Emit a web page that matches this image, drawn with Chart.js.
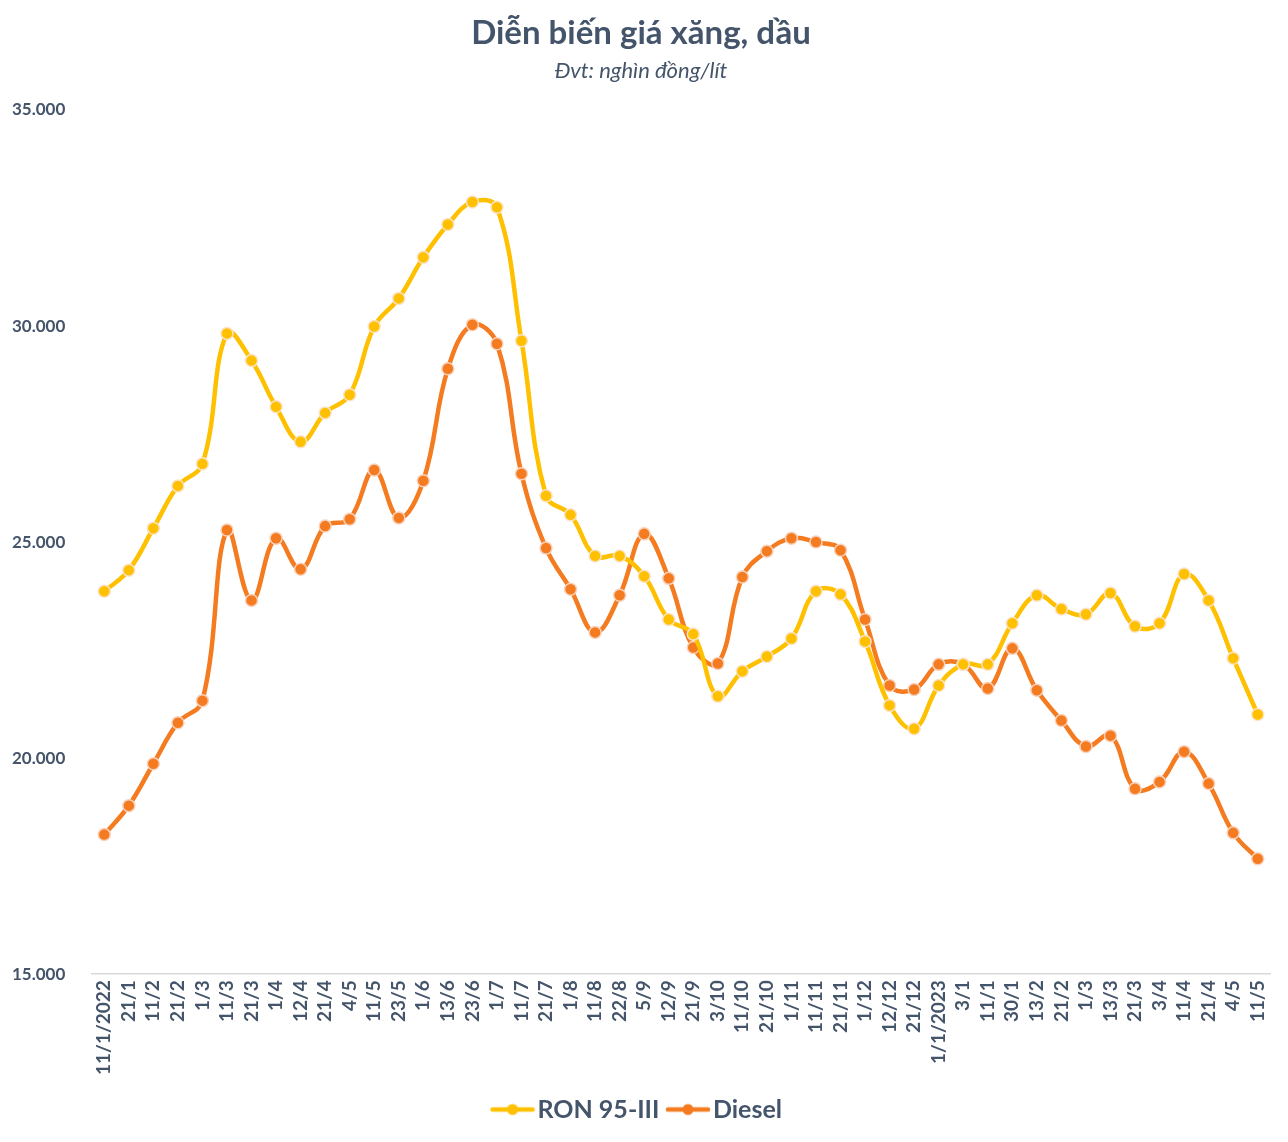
<!DOCTYPE html>
<html>
<head>
<meta charset="utf-8">
<script src="https://cdn.jsdelivr.net/npm/chart.js@4"></script>
<style>
  html, body { margin: 0; padding: 0; background: #fff; }
  #wrap { width: 1288px; height: 1142px; }
</style>
</head>
<body>
<div id="wrap"><canvas id="priceChart"></canvas></div>
<script>
// Dates of price adjustments (2022 - 2023)
const labels = ['11/1/2022', '21/1', '11/2', '21/2', '1/3', '11/3', '21/3', '1/4', '12/4', '21/4',
    '4/5', '11/5', '23/5', '1/6', '13/6', '23/6', '1/7', '11/7', '21/7', '1/8',
    '11/8', '22/8', '5/9', '12/9', '21/9', '3/10', '11/10', '21/10', '1/11', '11/11',
    '21/11', '1/12', '12/12', '21/12', '1/1/2023', '3/1', '11/1', '30/1', '13/2', '21/2',
    '1/3', '13/3', '21/3', '3/4', '11/4', '21/4', '4/5', '11/5'];

// dong / litre
const ron95 = [23860, 24350, 25320, 26300, 26810, 29830, 29200, 28130, 27320, 27990,
    28410, 29990, 30640, 31590, 32350, 32870, 32750, 29660, 26070, 25630,
    24680, 24680, 24210, 23210, 22870, 21430, 22010, 22350, 22770, 23860,
    23790, 22700, 21220, 20680, 21680, 22170, 22170, 23120, 23770, 23450,
    23330, 23820, 23050, 23120, 24260, 23650, 22310, 21010];

const diesel = [18230, 18900, 19870, 20820, 21330, 25280, 23650, 25090, 24370, 25370,
    25530, 26670, 25560, 26420, 29010, 30030, 29590, 26580, 24860, 23910,
    22910, 23770, 25190, 24160, 22560, 22190, 24190, 24790, 25090, 25000,
    24810, 23210, 21680, 21590, 22170, 22170, 21610, 22540, 21570, 20870,
    20270, 20520, 19290, 19450, 20150, 19410, 18270, 17670];

const yTicks = [15000, 20000, 25000, 30000, 35000];

const TEXT = '#44546A';
const FONT = "Lato, 'Open Sans', sans-serif";

// legend marker: short line with a dot in the middle
function legendMarker(color) {
    const c = document.createElement('canvas');
    c.width = 46; c.height = 14;
    const g = c.getContext('2d');
    g.strokeStyle = color;
    g.lineWidth = 4.5;
    g.lineCap = 'round';
    g.beginPath(); g.moveTo(3, 7); g.lineTo(43, 7); g.stroke();
    g.fillStyle = color;
    g.beginPath(); g.arc(23, 7, 5.5, 0, Math.PI * 2); g.fill();
    return c;
}

function fmt(v) {
    return v.toLocaleString('de-DE');
}

const ctx = document.getElementById('priceChart').getContext('2d');
new Chart(ctx, {
    type: 'line',
    data: {
        labels: labels,
        datasets: [
            {
                label: 'RON 95-III',
                data: ron95,
                borderColor: '#FFC000',
                backgroundColor: '#FFC000',
                pointBackgroundColor: '#FFC000',
                pointBorderColor: '#FBE3C8',
                pointBorderWidth: 1.5,
                pointRadius: 6,
                borderWidth: 4.5,
                tension: 0.4
            },
            {
                label: 'Diesel',
                data: diesel,
                borderColor: '#F47B20',
                backgroundColor: '#F47B20',
                pointBackgroundColor: '#F47B20',
                pointBorderColor: '#F8D2BC',
                pointBorderWidth: 1.5,
                pointRadius: 6,
                borderWidth: 4.5,
                tension: 0.4
            }
        ]
    },
    options: {
        responsive: true,
        maintainAspectRatio: false,
        animation: false,
        layout: { padding: { left: 12, right: 18, top: 10, bottom: 10 } },
        plugins: {
            title: {
                display: true,
                text: 'Diễn biến giá xăng, dầu',
                color: TEXT,
                font: { family: FONT, size: 33, weight: 'bold' },
                padding: { top: 4, bottom: 4 }
            },
            subtitle: {
                display: true,
                text: 'Đvt: nghìn đồng/lít',
                color: TEXT,
                font: { family: FONT, size: 22, style: 'italic' },
                padding: { top: 0, bottom: 26 }
            },
            legend: {
                position: 'bottom',
                labels: {
                    color: TEXT,
                    font: { family: FONT, size: 25, weight: 'bold' },
                    usePointStyle: true,
                    padding: 16,
                    generateLabels: (chart) => chart.data.datasets.map((ds, i) => ({
                        text: ds.label,
                        fillStyle: ds.borderColor,
                        strokeStyle: ds.borderColor,
                        fontColor: TEXT,
                        pointStyle: legendMarker(ds.borderColor),
                        datasetIndex: i,
                        hidden: false
                    }))
                }
            },
            tooltip: { enabled: false }
        },
        scales: {
            x: {
                offset: true,
                grid: { display: false, drawTicks: false },
                border: { display: true, color: '#D9D9D9', width: 1.5 },
                ticks: {
                    color: TEXT,
                    font: { family: FONT, size: 19, weight: 'bold' },
                    minRotation: 90,
                    maxRotation: 90,
                    autoSkip: false,
                    padding: 6
                }
            },
            y: {
                min: 15000,
                max: 35000,
                afterBuildTicks: (axis) => { axis.ticks = yTicks.map(v => ({ value: v })); },
                afterFit: (axis) => { axis.width = 80; },
                grid: { display: false, drawTicks: false },
                border: { display: false },
                ticks: {
                    color: TEXT,
                    crossAlign: 'far',
                    font: { family: FONT, size: 17, weight: 'bold' },
                    callback: (v) => fmt(v)
                }
            }
        }
    }
});
</script>
</body>
</html>
